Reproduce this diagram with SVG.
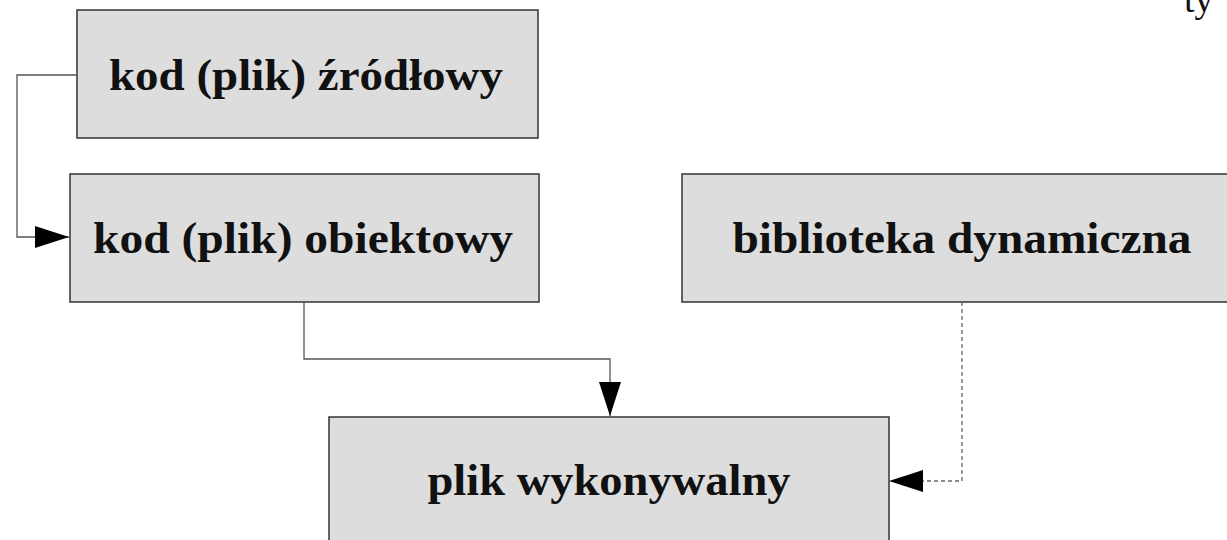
<svg xmlns="http://www.w3.org/2000/svg" width="1227" height="540" viewBox="0 0 1227 540">
  <style>
    .box { fill: #dddddd; stroke: #333333; stroke-width: 1.5; }
    .label { font-family: "Liberation Serif", "DejaVu Serif", serif; font-weight: bold; font-size: 44px; fill: #111111; text-anchor: middle; }
    .link { fill: none; stroke: #555555; stroke-width: 1.3; }
    .dashed { fill: none; stroke: #666666; stroke-width: 1.3; stroke-dasharray: 4 3; }
    .stray { font-family: "Liberation Serif", "DejaVu Serif", serif; font-size: 38px; fill: #111111; }
  </style>
  <defs>
    <marker id="head" markerUnits="userSpaceOnUse" markerWidth="34" markerHeight="22" refX="34" refY="11" orient="auto" viewBox="0 0 34 22">
      <path d="M0,0 L34,11 L0,22 Z" fill="#000000"/>
    </marker>
  </defs>

  <rect width="1227" height="540" fill="#ffffff"/>

  <text class="stray" x="1184" y="12">ty</text>

  <g id="source">
    <rect class="box" x="77" y="10" width="461" height="128"/>
    <text class="label" x="306" y="90" textLength="394" lengthAdjust="spacingAndGlyphs">kod (plik) źródłowy</text>
  </g>

  <g id="object">
    <rect class="box" x="70" y="174" width="469" height="128"/>
    <text class="label" x="303" y="253" textLength="420" lengthAdjust="spacingAndGlyphs">kod (plik) obiektowy</text>
  </g>

  <g id="dynlib">
    <rect class="box" x="682" y="174" width="560" height="128"/>
    <text class="label" x="962" y="253" textLength="459" lengthAdjust="spacingAndGlyphs">biblioteka dynamiczna</text>
  </g>

  <g id="executable">
    <rect class="box" x="329" y="417" width="560" height="140"/>
    <text class="label" x="609" y="495" textLength="363" lengthAdjust="spacingAndGlyphs">plik wykonywalny</text>
  </g>

  <g id="connectors">
    <path class="link" d="M77,75 H17 V237 H69" marker-end="url(#head)"/>
    <path class="link" d="M304,302 V359 H610 V416" marker-end="url(#head)"/>
    <path class="dashed" d="M962,302 V481 H889" marker-end="url(#head)"/>
  </g>
</svg>
